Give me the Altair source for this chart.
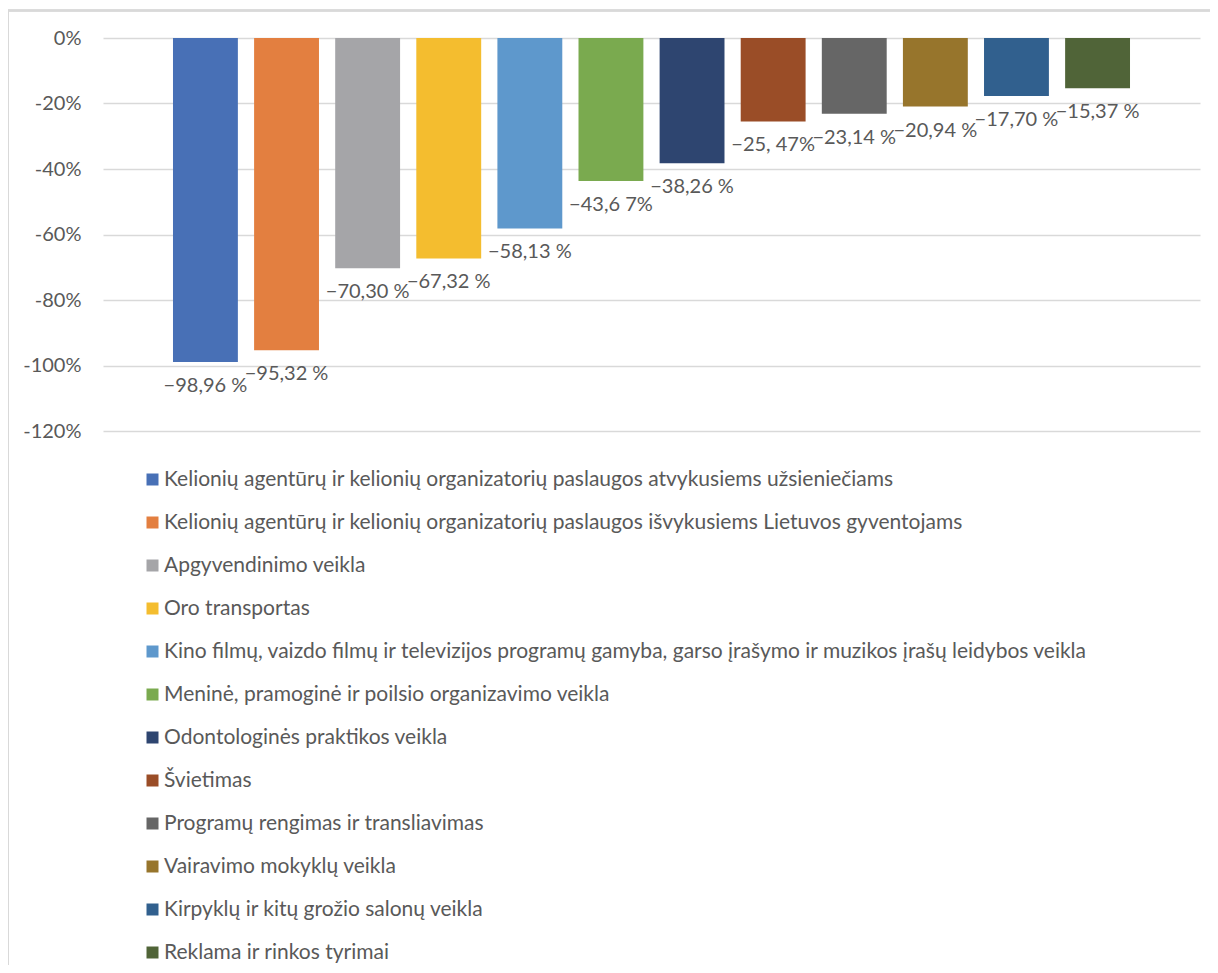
import altair as alt
import pandas as pd

categories = [
    "Kelionių agentūrų ir kelionių organizatorių paslaugos atvykusiems užsieniečiams",
    "Kelionių agentūrų ir kelionių organizatorių paslaugos išvykusiems Lietuvos gyventojams",
    "Apgyvendinimo veikla",
    "Oro transportas",
    "Kino filmų, vaizdo filmų ir televizijos programų gamyba, garso įrašymo ir muzikos įrašų leidybos veikla",
    "Meninė, pramoginė ir poilsio organizavimo veikla",
    "Odontologinės praktikos veikla",
    "Švietimas",
    "Programų rengimas ir transliavimas",
    "Vairavimo mokyklų veikla",
    "Kirpyklų ir kitų grožio salonų veikla",
    "Reklama ir rinkos tyrimai",
]
values = [-98.96, -95.32, -70.30, -67.32, -58.13, -43.67, -38.26, -25.47, -23.14, -20.94, -17.70, -15.37]
labels = ["−98,96 %", "−95,32 %", "−70,30 %", "−67,32 %", "−58,13 %", "−43,6 7%",
          "−38,26 %", "−25, 47%", "−23,14 %", "−20,94 %", "−17,70 %", "−15,37 %"]
colors = ["#4870B6", "#E37F40", "#A5A5A8", "#F4BD2F", "#5E98CC", "#7AAA4F",
          "#2E4570", "#9A4D27", "#666666", "#97752C", "#31608E", "#506438"]
y_ticks = [0, -20, -40, -60, -80, -100, -120]

df = pd.DataFrame({"cat": categories, "value": values, "label": labels})

FONT = "Lato"
GRAY = "#595959"
W, H = 1097, 393

xenc = alt.X("cat:N", sort=categories, axis=None,
             scale=alt.Scale(paddingInner=0.2, paddingOuter=0.863))

bars = alt.Chart(df).mark_bar().encode(
    x=xenc,
    y=alt.Y("value:Q", scale=alt.Scale(domain=[-120, 0], nice=False),
            axis=alt.Axis(values=y_ticks, labelExpr="datum.value + '%'", title=None,
                          domain=False, ticks=False, labelPadding=22, labelFontSize=20,
                          labelColor=GRAY, labelFont=FONT, grid=True, gridColor="#d9d9d9",
                          gridWidth=1.5)),
    color=alt.Color("cat:N", sort=categories,
                    scale=alt.Scale(domain=categories, range=colors),
                    legend=alt.Legend(orient="none", legendX=39, legendY=431, title=None,
                                      symbolType="square", symbolSize=144, symbolStrokeWidth=0,
                                      labelFontSize=21, labelColor=GRAY, labelFont=FONT,
                                      labelLimit=0, labelOffset=1, rowPadding=21,
                                      direction="vertical")),
)

text = alt.Chart(df).mark_text(baseline="middle", align="center", dy=24,
                               fontSize=20, color=GRAY, font=FONT).encode(
    x=xenc,
    y=alt.Y("value:Q"),
    text="label:N",
)

frame_top = alt.Chart(df).mark_rule(color="#d9d9d9", strokeWidth=1.5).encode(
    x=alt.value(-95), x2=alt.value(W + 10), y=alt.value(-27.5))
frame_left = alt.Chart(df).mark_rule(color="#d9d9d9", strokeWidth=1.5).encode(
    x=alt.value(-95), y=alt.value(-27.5), y2=alt.value(H + 534))

chart = alt.layer(frame_top, frame_left, bars, text).properties(
    width=W, height=H,
    autosize=alt.AutoSizeParams(type="none"),
    padding={"left": 95, "top": 30, "right": 10, "bottom": 534},
).configure_view(stroke=None)

chart.save("out.html", embed_options={"renderer": "svg", "actions": False})
